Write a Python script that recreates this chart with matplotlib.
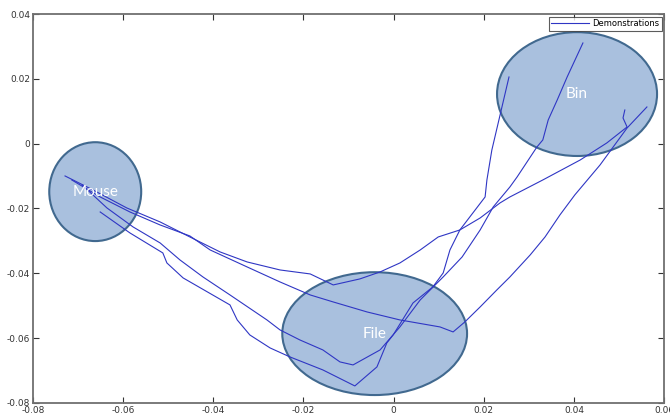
import matplotlib
matplotlib.use("Agg")
import matplotlib.pyplot as plt
from matplotlib.patches import Ellipse

# Demonstration trajectories (x, y)
demo1_x = [-0.0729, -0.0667, -0.0592, -0.0518, -0.0452, -0.0385, -0.0325, -0.0252, -0.0185, -0.0134,
           -0.0075, -0.0030, 0.0014, 0.0059, 0.0099, 0.0147, 0.0192, 0.0236, 0.0258, 0.0331,
           0.0414, 0.0473, 0.0518, 0.0509, 0.0513]
demo1_y = [-0.00996, -0.01428, -0.01983, -0.02415, -0.02878, -0.03340, -0.03649, -0.03896, -0.04019, -0.04358,
           -0.04173, -0.03957, -0.03680, -0.03279, -0.02878, -0.02662, -0.02292, -0.01829, -0.01644, -0.01120,
           -0.00503, 0.00022, 0.00515, 0.00793, 0.01039]

demo2_x = [-0.0714, -0.0651, -0.0585, -0.0518, -0.0452, -0.0407, -0.0325, -0.0252, -0.0185, -0.0134,
           -0.0059, 0.0014, 0.0103, 0.0132, 0.0158, 0.0192, 0.0229, 0.0258, 0.0303, 0.0336,
           0.0369, 0.0402, 0.0458, 0.0518, 0.0562]
demo2_y = [-0.01120, -0.01644, -0.02107, -0.02508, -0.02847, -0.03279, -0.03803, -0.04266, -0.04667, -0.04883,
           -0.05191, -0.05438, -0.05654, -0.05808, -0.05500, -0.05037, -0.04513, -0.04112, -0.03433, -0.02878,
           -0.02199, -0.01582, -0.00657, 0.00484, 0.01132]

demo3_x = [-0.0691, -0.0636, -0.0578, -0.0518, -0.0474, -0.0423, -0.0363, -0.0281, -0.0252, -0.0208,
           -0.0157, -0.0119, -0.0090, -0.0030, 0.0014, 0.0059, 0.0110, 0.0152, 0.0192, 0.0221,
           0.0258, 0.0274, 0.0318, 0.0331, 0.0343, 0.0363, 0.0385, 0.0420]
demo3_y = [-0.01274, -0.01983, -0.02569, -0.03063, -0.03587, -0.04112, -0.04667, -0.05438, -0.05746, -0.06055,
           -0.06363, -0.06733, -0.06826, -0.06363, -0.05654, -0.04821, -0.04112, -0.03495, -0.02662, -0.01952,
           -0.01336, -0.01027, -0.00102, 0.00114, 0.00731, 0.01348, 0.02057, 0.03106]

demo4_x = [-0.0651, -0.0585, -0.0512, -0.0503, -0.0467, -0.0363, -0.0347, -0.0319, -0.0274, -0.0230,
           -0.0157, -0.0086, -0.0037, -0.0015, -0.0001, 0.0043, 0.0087, 0.0110, 0.0125, 0.0147,
           0.0203, 0.0207, 0.0218, 0.0256]
demo4_y = [-0.02107, -0.02754, -0.03371, -0.03680, -0.04142, -0.04975, -0.05438, -0.05901, -0.06302, -0.06579,
           -0.06980, -0.07474, -0.06888, -0.06147, -0.05901, -0.04914, -0.04420, -0.03988, -0.03279, -0.02662,
           -0.01644, -0.01120, -0.00194, 0.02057]

# Regions: name, center x, center y, width, height
region_names = ["Mouse", "File", "Bin"]
region_cx = [-0.0662, -0.0042, 0.0407]
region_cy = [-0.0148, -0.0586, 0.0153]
region_w = [0.0204, 0.0410, 0.0355]
region_h = [0.0305, 0.0379, 0.0382]

xticks = [-0.08, -0.06, -0.04, -0.02, 0, 0.02, 0.04, 0.06]
yticks = [-0.08, -0.06, -0.04, -0.02, 0, 0.02, 0.04]
xticklabels = ["-0.08", "-0.06", "-0.04", "-0.02", "0", "0.02", "0.04", "0.06"]
yticklabels = ["-0.08", "-0.06", "-0.04", "-0.02", "0", "0.02", "0.04"]

fig = plt.figure(figsize=(6.7, 4.17), dpi=100)
ax = fig.add_axes([0.0493, 0.0336, 0.9418, 0.9328])

for cx, cy, w, h, name in zip(region_cx, region_cy, region_w, region_h, region_names):
    e = Ellipse((cx, cy), w, h, facecolor="#A9C0DE", edgecolor="#41698F", lw=1.5, zorder=1)
    ax.add_patch(e)
    ax.text(cx, cy, name, color="white", fontsize=11, ha="center", va="center",
            family="Lato", zorder=4)

line_color = "#2F36C4"
demos = [(demo1_x, demo1_y), (demo2_x, demo2_y), (demo3_x, demo3_y), (demo4_x, demo4_y)]
for i, (xs, ys) in enumerate(demos):
    ax.plot(xs, ys, color=line_color, lw=0.8, zorder=3,
            label="Demonstrations" if i == 0 else None)

ax.set_xlim(-0.08, 0.06)
ax.set_ylim(-0.08, 0.04)
ax.set_xticks(xticks)
ax.set_xticklabels(xticklabels)
ax.set_yticks(yticks)
ax.set_yticklabels(yticklabels)
ax.tick_params(direction="in", length=4, width=0.8, colors="#333333", labelsize=6.5,
               top=True, right=True, pad=2)
for sp in ax.spines.values():
    sp.set_color("#707070")
    sp.set_linewidth(1.3)

leg = ax.legend(loc="upper right", fontsize=6, frameon=True, fancybox=False,
                borderaxespad=0.3, handlelength=4.5, borderpad=0.3, handletextpad=0.4)
leg.get_frame().set_edgecolor("#333333")
leg.get_frame().set_linewidth(0.8)

fig.savefig("out.png", dpi=100)
